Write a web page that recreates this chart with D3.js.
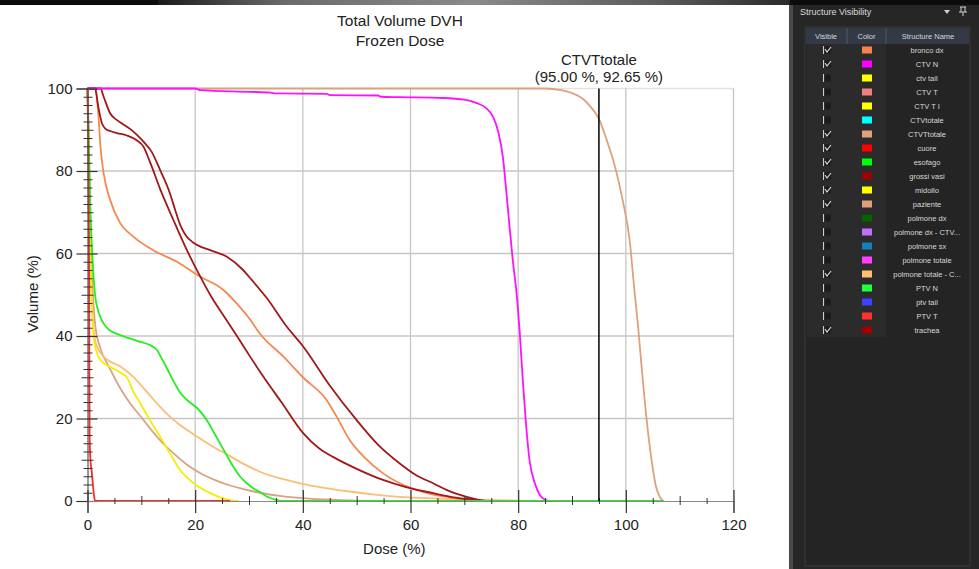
<!DOCTYPE html>
<html>
<head>
<meta charset="utf-8">
<script src="https://cdn.jsdelivr.net/npm/d3@7"></script>
<style>
  html, body { margin: 0; padding: 0; background: #fff; }
  svg { display: block; font-family: "Liberation Sans", Arial, sans-serif; }
</style>
</head>
<body>
<svg id="chart" width="979" height="569"></svg>
<script>
// ---- axis ticks ----
const doseTicks = [0, 20, 40, 60, 80, 100, 120];
const volumeTicks = [0, 20, 40, 60, 80, 100];

// ---- cumulative DVH curves: [dose %, volume %] ----
const ctvtTotale = [[0,100],[80,100],[85,100],[88,99.6],[90,98.9],[92,97.5],[93.5,95.5],[95,92.65],[96.5,87.3],[98,81],[99.4,73],[100.7,63.3],[101.6,51],[102.3,42],[102.9,33],[103.8,20.5],[104.7,10.7],[105.6,3.5],[106.3,1],[107,0]];
const ctvN = [[0,100],[20,100],[21,99.6],[30,99.2],[34,99.0],[35,98.8],[44.5,98.7],[45,98.4],[54,98.3],[54.5,98.0],[58,97.9],[66,97.7],[70,97.3],[72.2,96.5],[74,95.3],[75.3,93.2],[76.3,89.5],[77.2,83],[77.8,75],[78.4,66.5],[79,58.4],[79.7,50.4],[80.3,40.7],[80.9,28.5],[81.5,18],[82.1,10],[83.1,4.3],[84,1.5],[85,0.3],[86,0]];
const paziente = [[0,100],[0.3,80],[0.6,62],[1,50],[1.5,42],[2.4,37],[4,32.5],[6,27.5],[8,23.5],[10,20.3],[12,17],[14,14],[16.3,11.2],[18.5,8.8],[20.9,6.8],[23.5,5.2],[25.9,4.0],[29,2.9],[32,2.0],[36,1.2],[40,0.7],[45,0.3],[50,0.1],[55,0]];
const polmoneTotaleCtv = [[0,100],[0.2,90],[0.4,75],[0.7,56],[1.1,42],[1.6,38],[3,35],[6.1,32.6],[8.5,30.1],[11,26.5],[13.5,22.8],[15,20.8],[17,18.6],[19.7,16.2],[22.8,13.6],[25.9,11.3],[29,9.0],[32,7.1],[35.5,5.6],[39.5,4.3],[44,3.2],[48.7,2.3],[53,1.6],[58,1.0],[65,0.6],[72,0.3],[80,0.1],[86,0]];
const broncoDx = [[0,100],[1.5,100],[1.8,97],[2.0,94],[2.4,86],[3.0,79.4],[4.2,73],[6.1,67.3],[8.5,64.1],[12.2,60.8],[16.6,58],[20.9,54.4],[25.2,51.2],[27.7,47.9],[30.2,44],[32,40.6],[36.4,35],[40,30],[44.4,24.5],[46.3,20.4],[48.7,14.8],[51.5,10.5],[54.9,6.7],[58,4.3],[61.1,2.7],[64,1.6],[67.3,0.9],[70,0.3],[72,0]];
const grossiVasi = [[0,100],[2.4,100],[3,98],[4.2,94],[5.3,92.5],[6.4,91.5],[8.2,89.9],[10.4,87.1],[11.9,84.7],[13.5,80.2],[15.3,74.6],[16.3,70.5],[17.2,67],[18.3,64.3],[19.7,62.6],[22.8,60.8],[25.9,59.2],[28.9,56],[30.5,53.6],[33.3,49.2],[37,42.3],[40.1,37.4],[45,28],[50,19.6],[54,13.6],[58,9.1],[61,6.3],[64.2,4.3],[67,2.5],[70.4,1.0],[73.5,0]];
const trachea = [[0,100],[1.4,100],[2.0,95.6],[2.7,91.5],[3.3,90.3],[4.2,89.7],[5.5,89.2],[7.3,88.6],[9.2,87.4],[10.4,85.9],[11.6,82.2],[13.5,75.6],[16,68],[18.4,61],[20.9,54.5],[23,49.5],[25.5,44.5],[28,39.5],[30.2,35],[33,29.5],[36,24],[40.1,16.4],[43,12.8],[45.6,10.7],[50,7.8],[54.9,5.1],[59,3.4],[64.2,1.9],[68,0.9],[72.2,0.3],[74,0]];
const midollo = [[0,100],[0.3,75],[0.6,55],[1,42],[1.5,37],[2.5,34],[3.5,33],[5,32],[6.5,30.8],[7.3,30],[8.5,26.5],[9.8,23.7],[11.6,19.6],[13.5,15.6],[15.3,11.6],[17.2,7.5],[19.7,4.3],[22.8,1.9],[26.5,0.2],[28,0]];
const esofago = [[0,100],[0.2,90],[0.5,72],[0.8,62],[1.1,55],[1.4,50],[1.8,47],[2.4,44.5],[3,43],[4,41.5],[5.5,40.5],[7.9,39.4],[10,38.5],[11.6,37.8],[12.9,36.6],[13.8,34.5],[14.7,32.3],[16,29],[17.2,26.3],[18.4,24.6],[19.4,23.5],[20.3,22.6],[21.2,21.3],[22.2,19.5],[23.4,16.8],[24.6,14],[25.9,11],[27.1,8.3],[28.3,6],[29.6,4.3],[31,2.9],[32,2.2],[33.3,1.1],[35,0.3],[36.5,0],[107,0]];
const cuore = [[0,100],[0.1,90],[0.2,75],[0.3,55],[0.35,30],[0.4,15],[0.55,10],[0.8,7],[1.0,4],[1.2,1.5],[1.4,0],[26.5,0]];

// ---- structure list of the visibility panel ----
const structureNames = ["bronco dx","CTV N","ctv tail","CTV T","CTV T I","CTVtotale","CTVTtotale","cuore","esofago","grossi vasi","midollo","paziente","polmone dx","polmone dx - CTV...","polmone sx","polmone totale","polmone totale - C...","PTV N","ptv tail","PTV T","trachea"];
const structureColors = ["#f5834a","#ff00ff","#ffff00","#f08080","#ffff00","#00ffff","#e0a07c","#ff0000","#00ff00","#a00000","#ffff00","#e0a07c","#006400","#c070ff","#1080c0","#ff40ff","#ffc070","#20ff40","#4040ff","#ff3030","#a00000"];
const structureVisible = [true,true,false,false,false,false,true,true,true,true,true,true,false,false,false,false,true,false,false,false,true];

// curves in drawing order (last is on top)
const series = [
  { name: "CTVTtotale", color: "#dfa07d", data: ctvtTotale },
  { name: "paziente", color: "#d9a283", data: paziente },
  { name: "polmone totale - CTV", color: "#fcbd76", data: polmoneTotaleCtv },
  { name: "bronco dx", color: "#f5884f", data: broncoDx },
  { name: "grossi vasi", color: "#a01818", data: grossiVasi },
  { name: "trachea", color: "#a01818", data: trachea },
  { name: "CTV N", color: "#ff10ff", data: ctvN },
  { name: "midollo", color: "#f4ee00", data: midollo },
  { name: "esofago", color: "#22ee22", data: esofago },
  { name: "cuore", color: "#ff2a2a", data: cuore }
];

const markerDose = 95.00, markerVolume = 92.65, markerName = "CTVTtotale";

const svg = d3.select("#chart");
const font = "'Liberation Sans', Arial, sans-serif";

// window strip along the top edge
const defs = svg.append("defs");
const topGrad = defs.append("linearGradient").attr("id", "topGrad");
topGrad.append("stop").attr("offset", "0%").attr("stop-color", "#1a1a1a");
topGrad.append("stop").attr("offset", "20%").attr("stop-color", "#6a6a6a");
topGrad.append("stop").attr("offset", "50%").attr("stop-color", "#8a8a8a");
topGrad.append("stop").attr("offset", "80%").attr("stop-color", "#5a5a5a");
topGrad.append("stop").attr("offset", "100%").attr("stop-color", "#2a2a2a");
svg.append("rect").attr("x", 0).attr("y", 0).attr("width", 979).attr("height", 5).attr("fill", "#0c0c0c");
svg.append("rect").attr("x", 158).attr("y", 0).attr("width", 632).attr("height", 5).attr("fill", "url(#topGrad)");

// ---- scales ----
const x = d3.scaleLinear().domain([0, 120]).range([87.5, 733.5]);
const y = d3.scaleLinear().domain([0, 100]).range([501, 88.5]);

// ---- grid ----
const grid = svg.append("g").attr("fill", "none");
grid.selectAll("line.h").data(volumeTicks.filter(v => v > 0)).join("line")
  .attr("x1", x(0)).attr("x2", x(120))
  .attr("y1", d => y(d)).attr("y2", d => y(d))
  .attr("stroke", d => d === 100 ? "#e2e2e2" : "#c6c6c6").attr("stroke-width", 1.3);
grid.selectAll("line.v").data(doseTicks.filter(v => v > 0)).join("line")
  .attr("x1", d => x(d)).attr("x2", d => x(d))
  .attr("y1", y(0)).attr("y2", y(100))
  .attr("stroke", "#c6c6c6").attr("stroke-width", 1.3);

// ---- curves ----
const line = d3.line().x(d => x(d[0])).y(d => y(d[1])).curve(d3.curveMonotoneX);
svg.append("g").selectAll("path").data(series).join("path")
  .attr("d", s => line(s.data))
  .attr("fill", "none")
  .attr("stroke", s => s.color)
  .attr("stroke-width", 1.8)
  .attr("stroke-linejoin", "round");

// ---- axes ----
const yAxis = svg.append("g").attr("transform", `translate(${x(0)},0)`)
  .call(d3.axisLeft(y).tickValues(volumeTicks).tickSize(11).tickPadding(4));
yAxis.attr("font-family", font).attr("font-size", 15);
yAxis.select(".domain").attr("stroke", "#555").attr("stroke-width", 1.2);
yAxis.selectAll(".tick line").attr("x1", 10).attr("stroke", "#333").attr("stroke-width", 1.2);
yAxis.selectAll(".tick text").attr("fill", "#222");

const yMinor = d3.range(2, 100, 2).filter(v => v % 20 !== 0);
svg.append("g").attr("transform", `translate(${x(0)},0)`)
  .call(d3.axisLeft(y).tickValues(yMinor).tickFormat("").tickSize(4))
  .call(g => g.select(".domain").remove())
  .call(g => g.selectAll(".tick line")
    .attr("x2", d => d % 10 === 0 ? -6 : -4)
    .attr("x1", d => d % 10 === 0 ? 6 : 5)
    .attr("stroke", "#333").attr("stroke-width", 1));

const xAxis = svg.append("g").attr("transform", `translate(0,${y(0)})`)
  .call(d3.axisBottom(x).tickValues(doseTicks).tickSize(12).tickPadding(6));
xAxis.attr("font-family", font).attr("font-size", 15);
xAxis.select(".domain").attr("stroke", "#888").attr("stroke-width", 1.2);
xAxis.selectAll(".tick line").attr("y1", -11).attr("stroke", "#333").attr("stroke-width", 1.2);
xAxis.selectAll(".tick text").attr("fill", "#222");

const xMinor = d3.range(5, 120, 5).filter(v => v % 20 !== 0);
svg.append("g").attr("transform", `translate(0,${y(0)})`)
  .call(d3.axisBottom(x).tickValues(xMinor).tickFormat("").tickSize(4))
  .call(g => g.select(".domain").remove())
  .call(g => g.selectAll(".tick line")
    .attr("y1", d => d % 10 === 0 ? -5 : -3)
    .attr("y2", d => d % 10 === 0 ? 4 : 3)
    .attr("stroke", "#333").attr("stroke-width", 1));

// ---- dose cursor ----
svg.append("line")
  .attr("x1", x(markerDose)).attr("x2", x(markerDose))
  .attr("y1", y(100)).attr("y2", y(0))
  .attr("stroke", "#000").attr("stroke-width", 1.5);
svg.append("text").attr("x", x(markerDose)).attr("y", 65)
  .attr("text-anchor", "middle").attr("font-size", 15).attr("fill", "#222")
  .text(markerName);
svg.append("text").attr("x", x(markerDose)).attr("y", 82)
  .attr("text-anchor", "middle").attr("font-size", 15).attr("fill", "#222")
  .text(`(${markerDose.toFixed(2)} %, ${markerVolume.toFixed(2)} %)`);

// ---- titles ----
svg.append("text").attr("x", 400).attr("y", 26).attr("text-anchor", "middle")
  .attr("font-size", 15.5).attr("fill", "#222").text("Total Volume DVH");
svg.append("text").attr("x", 400).attr("y", 46).attr("text-anchor", "middle")
  .attr("font-size", 15.5).attr("fill", "#222").text("Frozen Dose");
svg.append("text").attr("x", x(57)).attr("y", 554).attr("text-anchor", "middle")
  .attr("font-size", 15).attr("fill", "#222").text("Dose (%)");
svg.append("text").attr("transform", "translate(38,294) rotate(-90)").attr("text-anchor", "middle")
  .attr("font-size", 15).attr("fill", "#222").text("Volume (%)");

// ---- structure visibility panel ----
const panel = svg.append("g");
panel.append("rect").attr("x", 789).attr("y", 5).attr("width", 190).attr("height", 564).attr("fill", "#262626");
panel.append("rect").attr("x", 789).attr("y", 5).attr("width", 4).attr("height", 564).attr("fill", "#4a4a4a");
panel.append("text").attr("x", 800).attr("y", 15).attr("font-size", 9).attr("fill", "#dcdcdc")
  .text("Structure Visibility");
panel.append("path").attr("d", "M944,10 L950,10 L947,14 Z").attr("fill", "#cfcfcf");
panel.append("path").attr("d", "M960,7 L966,7 M961,7 L961,12 M965,7 L965,12 M959,12 L967,12 M963,12 L963,16")
  .attr("stroke", "#cfcfcf").attr("stroke-width", 1).attr("fill", "none");

const tbl = { x0: 805, x1: 970, yTop: 27, yHead: 44, colA: 847, colB: 886, yBottom: 566 };
panel.append("rect").attr("x", tbl.x0).attr("y", tbl.yTop).attr("width", tbl.x1 - tbl.x0).attr("height", tbl.yBottom - tbl.yTop)
  .attr("fill", "#242424").attr("stroke", "#3a3a3a");
panel.append("rect").attr("x", tbl.x0 + 1).attr("y", tbl.yTop + 1).attr("width", tbl.x1 - tbl.x0 - 2).attr("height", tbl.yHead - tbl.yTop - 1)
  .attr("fill", "#333a46");
panel.selectAll("line.colsep").data([tbl.colA, tbl.colB]).join("line")
  .attr("x1", d => d).attr("x2", d => d).attr("y1", tbl.yTop + 1).attr("y2", tbl.yHead)
  .attr("stroke", "#4f5868");
const heads = [["Visible", (tbl.x0 + tbl.colA) / 2], ["Color", (tbl.colA + tbl.colB) / 2], ["Structure Name", (tbl.colB + tbl.x1) / 2]];
panel.selectAll("text.head").data(heads).join("text")
  .attr("x", d => d[1]).attr("y", 38.5).attr("text-anchor", "middle")
  .attr("font-size", 7.5).attr("fill", "#d6d6d6").text(d => d[0]);

const rowY = d3.scaleLinear().domain([0, 20]).range([50, 330]);
panel.append("rect").attr("x", tbl.x0 + 2).attr("y", tbl.yHead).attr("width", tbl.colB - tbl.x0 - 2).attr("height", rowY(20) + 7 - tbl.yHead)
  .attr("fill", "#2b2b2b");
const rows = panel.selectAll("g.row").data(structureNames).join("g")
  .attr("transform", (d, i) => `translate(0,${rowY(i)})`);
rows.append("line").attr("x1", 823.5).attr("x2", 823.5).attr("y1", -4).attr("y2", 4)
  .attr("stroke", "#d0d0d0").attr("stroke-width", 1);
rows.append("rect").attr("x", 825).attr("y", -3.5).attr("width", 6).attr("height", 7)
  .attr("fill", "#1c1c1c");
rows.filter((d, i) => structureVisible[i]).append("path")
  .attr("d", "M825,-1 L827,2 L831,-3").attr("stroke", "#e0e0e0").attr("stroke-width", 1.1).attr("fill", "none");
rows.append("rect").attr("x", 862).attr("y", -3.5).attr("width", 10).attr("height", 7)
  .attr("fill", (d, i) => structureColors[i]);
rows.append("text").attr("x", 927).attr("y", 3).attr("text-anchor", "middle")
  .attr("font-size", 7.5).attr("fill", "#d8d8d8").text(d => d);
</script>
</body>
</html>
